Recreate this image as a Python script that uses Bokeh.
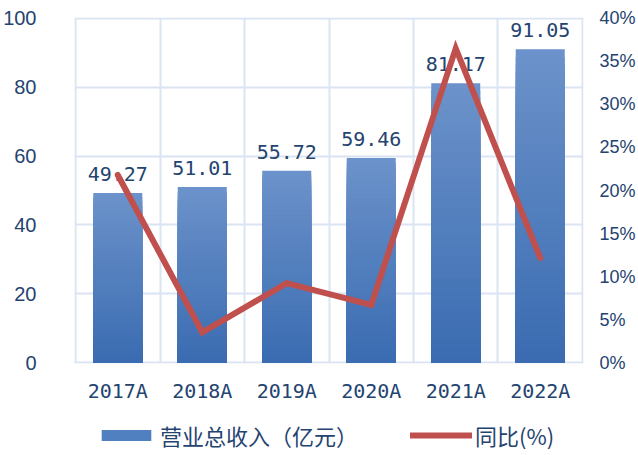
from bokeh.plotting import figure
from bokeh.layouts import column
from bokeh.models import (Range1d, LinearAxis, FixedTicker, PrintfTickFormatter,
                          ColumnDataSource, Legend, LegendItem)
from bokeh.embed import file_html
from bokeh.resources import INLINE
from bokeh.core.properties import value

categories = ["2017A", "2018A", "2019A", "2020A", "2021A", "2022A"]
revenue = [49.27, 51.01, 55.72, 59.46, 81.17, 91.05]
yoy = [21.8, 3.53, 9.23, 6.71, 36.51, 12.17]
left_ticks = [0, 20, 40, 60, 80, 100]
right_ticks = [0, 5, 10, 15, 20, 25, 30, 35, 40]
legend_labels = ["营业总收入（亿元）", "同比(%)"]

TEXT = "#24436F"
GRID = "#DAE4F3"
RED = "#C0504D"
MID = "#5080C0"
TOP_C = (0x6C, 0x92, 0xCA)
BOT_C = (0x3A, 0x6C, 0xB1)

xs = [i + 0.5 for i in range(len(categories))]
bw = 0.58

# gradient bars: overlapping rects, tallest (lightest) first, shorter darker ones on top
N = 40
L, R, B, T, C = [], [], [], [], []
for x, v in zip(xs, revenue):
    for k in range(N):
        frac = (N - k) / N
        t = (N - k - 0.5) / N
        col = tuple(int(round(BOT_C[j] + (TOP_C[j] - BOT_C[j]) * t)) for j in range(3))
        L.append(x - bw / 2); R.append(x + bw / 2)
        B.append(0); T.append(v * frac)
        C.append("#%02x%02x%02x" % col)
bar_src = ColumnDataSource(dict(left=L, right=R, bottom=B, top=T, color=C))

p = figure(width=638, height=409, output_backend="svg", toolbar_location=None,
           x_range=Range1d(-0.012, 6.012), y_range=Range1d(-0.25, 100.25),
           min_border_left=74, min_border_right=55, min_border_top=17, min_border_bottom=46)
p.extra_y_ranges = {"pct": Range1d(-0.1, 40.1)}
p.outline_line_color = None
p.background_fill_color = "white"

bars = p.quad(left="left", right="right", bottom="bottom", top="top", source=bar_src,
              fill_color="color", line_color=None)

p.text(x=xs, y=revenue, text=["%.2f" % v for v in revenue], text_align="center",
       text_baseline="alphabetic", y_offset=-19, text_font=value("DejaVu Sans Mono"),
       text_font_size="20px", text_color=TEXT)

line = p.line(x=xs, y=yoy, y_range_name="pct", line_color=RED, line_width=6,
              line_cap="round", line_join="miter")

# grids
p.xgrid.ticker = FixedTicker(ticks=list(range(len(categories) + 1)))
p.ygrid.ticker = FixedTicker(ticks=left_ticks)
for g in (p.xgrid[0], p.ygrid[0]):
    g.grid_line_color = GRID
    g.grid_line_width = 2

# axes
xa = p.xaxis[0]
xa.ticker = FixedTicker(ticks=xs)
xa.major_label_overrides = {x: c for x, c in zip(xs, categories)}
xa.major_label_text_font = "DejaVu Sans Mono"
xa.major_label_text_font_size = "20px"
xa.major_label_standoff = 9

ya = p.yaxis[0]
ya.ticker = FixedTicker(ticks=left_ticks)
ya.major_label_text_font = "Liberation Sans"
ya.major_label_text_font_size = "20px"
ya.major_label_standoff = 32

ra = LinearAxis(y_range_name="pct", ticker=FixedTicker(ticks=right_ticks),
                formatter=PrintfTickFormatter(format="%d%%"))
ra.major_label_text_font = "Liberation Sans"
ra.major_label_text_font_size = "18px"
ra.major_label_standoff = 10
p.add_layout(ra, "right")

for a in (xa, ya, ra):
    a.axis_line_color = None
    a.major_tick_line_color = None
    a.minor_tick_line_color = None
    a.major_label_text_color = TEXT

# legend strip (its frame is aligned with the main frame by the column layout)
lp = figure(width=638, height=43, output_backend="svg", toolbar_location=None,
            x_range=Range1d(0, 1), y_range=Range1d(0, 1),
            min_border=0, min_border_left=0, min_border_right=0,
            min_border_top=0, min_border_bottom=0)
lp.axis.visible = False
lp.grid.visible = False
lp.outline_line_color = None
lq = lp.quad(left=[5], right=[6], bottom=[5], top=[6], fill_color=MID, line_color=None)
ll = lp.line(x=[5, 6], y=[5, 5], line_color=RED, line_width=6, line_cap="round")
legend = Legend(items=[LegendItem(label=legend_labels[0], renderers=[lq]),
                       LegendItem(label=legend_labels[1], renderers=[ll])],
                orientation="horizontal", location=(21, 1),
                label_text_font="Noto Sans CJK SC", label_text_font_size="22px",
                label_text_color=TEXT, glyph_width=62, glyph_height=14,
                label_standoff=3, spacing=52, padding=0, margin=0,
                border_line_color=None, background_fill_alpha=0)
lp.add_layout(legend, "center")

layout = column(p, lp, spacing=0)
open("out.html", "w").write(file_html(layout, INLINE))
